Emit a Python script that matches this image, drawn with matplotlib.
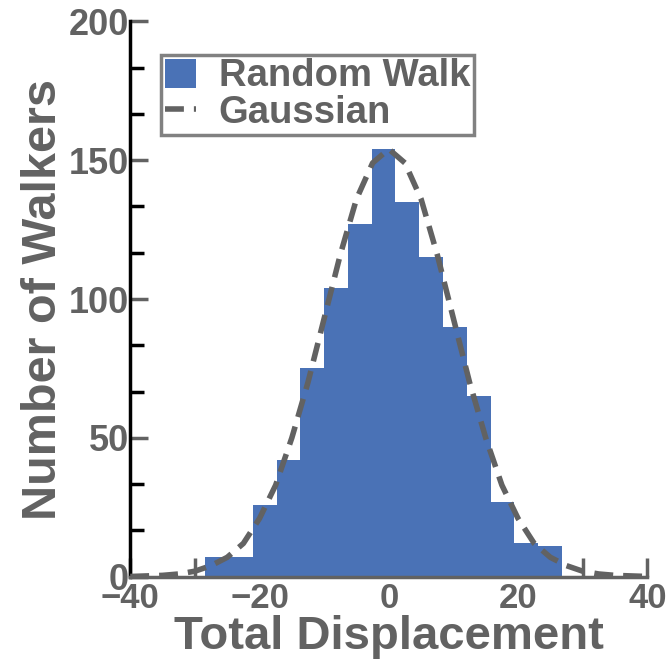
import matplotlib
matplotlib.use('Agg')
import matplotlib.pyplot as plt
from matplotlib.ticker import MultipleLocator
from matplotlib.patches import Patch
from matplotlib.lines import Line2D

# histogram
bin_edges = [-28.4, -24.72, -21.04, -17.36, -13.68, -10.0, -6.32, -2.64, 1.04,
             4.72, 8.4, 12.08, 15.76, 19.44, 23.12, 26.8]
walkers = [7, 7, 26, 42, 75, 104, 127, 154, 135, 115, 90, 65, 27, 12, 11]

# gaussian curve
gauss_x = [-40, -37.5, -35, -32.5, -30, -27.5, -25, -22.5, -20, -17.5, -15, -12.5, -10,
           -7.5, -5, -2.5, 0, 2.5, 5, 7.5, 10, 12.5, 15, 17.5, 20, 22.5, 25, 27.5,
           30, 32.5, 35, 37.5, 40]
gauss_y = [0.1, 0.3, 0.5, 1, 2, 4, 7, 12, 21, 33, 50, 70, 93, 116, 136, 149, 154,
           149, 136, 116, 93, 70, 50, 33, 21, 12, 7, 4, 2, 1, 0.5, 0.3, 0.1]

x_ticks = [-40, -20, 0, 20, 40]
y_ticks = [0, 50, 100, 150, 200]

grey = '#626262'
blue = '#4a72b6'

plt.rcParams['font.family'] = ['Liberation Sans', 'DejaVu Sans']
plt.rcParams['font.weight'] = 'bold'
plt.rcParams['axes.labelweight'] = 'bold'

fig = plt.figure(figsize=(6.68, 6.66), dpi=100)
ax = fig.add_axes([0.195, 0.134, 0.774, 0.834])

ax.stairs(walkers, bin_edges, fill=True, color=blue, zorder=2)
ax.plot(gauss_x, gauss_y, color=grey, lw=4, dashes=(3.4, 1.8), zorder=3)

ax.set_xlim(-40, 40)
ax.set_ylim(0, 200)
ax.set_xticks(x_ticks)
ax.set_yticks(y_ticks)
ax.xaxis.set_minor_locator(MultipleLocator(10))
ax.yaxis.set_minor_locator(MultipleLocator(50 / 3))

for side in ['top', 'right']:
    ax.spines[side].set_visible(False)
ax.spines['left'].set_color('black')
ax.spines['left'].set_linewidth(2.5)
ax.spines['bottom'].set_color(grey)
ax.spines['bottom'].set_linewidth(2.5)

ax.tick_params(axis='y', which='major', direction='in', length=13, width=2.5,
               color=grey, labelsize=26, labelcolor=grey, pad=1)
ax.tick_params(axis='y', which='minor', direction='in', length=10, width=2.5, color='black')
ax.tick_params(axis='x', which='both', direction='in', length=14, width=2.5,
               color=grey, labelsize=25, labelcolor=grey, pad=4)

ax.set_xlabel('Total Displacement', fontsize=34, color=grey, labelpad=0)
ax.set_ylabel('Number of Walkers', fontsize=35, color=grey, labelpad=2)

handles = [Patch(facecolor=blue, edgecolor='none'),
           Line2D([], [], color=grey, lw=4, dashes=(3.4, 1.8))]
leg = ax.legend(handles, ['Random Walk', 'Gaussian'], loc='upper left',
                bbox_to_anchor=(0.06, 0.94), borderaxespad=0, fontsize=27.5,
                frameon=True, fancybox=False, handlelength=0.8, handleheight=0.8,
                handletextpad=0.6, labelspacing=0.02, borderpad=0.1)
leg.get_frame().set_edgecolor(grey)
leg.get_frame().set_linewidth(2.5)
for t in leg.get_texts():
    t.set_color(grey)

fig.savefig('out.png', dpi=100)
